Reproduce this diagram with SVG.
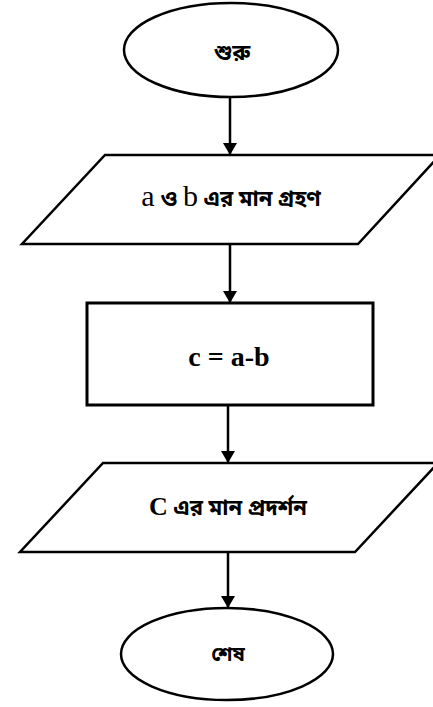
<svg xmlns="http://www.w3.org/2000/svg" width="433" height="707" viewBox="0 0 433 707">
<style>
.shape{fill:#fff;stroke:#000;stroke-width:2.5}
.rect{fill:#fff;stroke:#000;stroke-width:3}
.bn{font-family:"Noto Sans Bengali","Noto Serif Bengali","Noto Sans",sans-serif;font-weight:bold;fill:#000}
.lat{font-family:"Liberation Serif",serif;fill:#000}
.conn{stroke:#000;stroke-width:2.5;fill:none}
</style>
<defs>
<marker id="ah" viewBox="0 0 12 14" refX="12" refY="7" markerWidth="12" markerHeight="14" markerUnits="userSpaceOnUse" orient="auto">
<path d="M0,0 L12,7 L0,14 Z" fill="#000"/>
</marker>
</defs>
<rect width="433" height="707" fill="#fff"/>
<g id="connectors">
<line class="conn" x1="230" y1="97" x2="230" y2="155" marker-end="url(#ah)"/>
<line class="conn" x1="230" y1="244" x2="230" y2="303" marker-end="url(#ah)"/>
<line class="conn" x1="228" y1="405" x2="228" y2="463" marker-end="url(#ah)"/>
<line class="conn" x1="228" y1="552" x2="228" y2="608" marker-end="url(#ah)"/>
</g>
<g id="start">
<ellipse class="shape" cx="231" cy="50" rx="107" ry="47"/>
<text class="bn" x="232" y="60" font-size="22" text-anchor="middle">শুরু</text>
</g>
<g id="input">
<polygon class="shape" points="105,155 440,155 358,244 22,244"/>
<text x="231" y="206" text-anchor="middle"><tspan class="lat" font-size="30">a</tspan><tspan class="bn" font-size="22"> ও </tspan><tspan class="lat" font-size="30">b</tspan><tspan class="bn" font-size="22"> এর মান গ্রহণ</tspan></text>
</g>
<g id="process">
<rect class="rect" x="87" y="303" width="286" height="102"/>
<text class="lat" x="229" y="366" font-size="28" font-weight="bold" text-anchor="middle">c = a-b</text>
</g>
<g id="output">
<polygon class="shape" points="103,463 438,463 355,552 20,552"/>
<text x="228" y="515" text-anchor="middle"><tspan class="lat" font-size="26" font-weight="bold">C</tspan><tspan class="bn" font-size="22"> এর মান প্রদর্শন</tspan></text>
</g>
<g id="end">
<ellipse class="shape" cx="227" cy="654" rx="106" ry="46"/>
<text class="bn" x="228" y="661" font-size="20" text-anchor="middle">শেষ</text>
</g>
</svg>
